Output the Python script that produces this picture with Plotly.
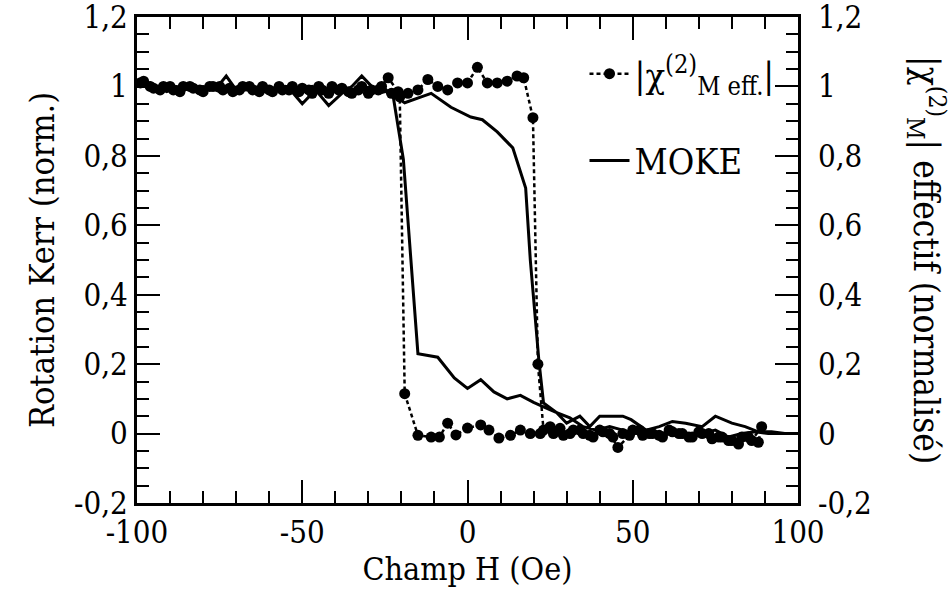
import plotly.graph_objects as go

# ---------------- data ----------------
chi_up_H = [-99, -96, -93, -90, -87, -84, -81, -78, -75, -72, -69, -66, -63, -60, -57, -54,
            -51, -48, -45, -42, -39, -36, -33, -30, -27, -24, -21, -18, -15, -12, -9, -6,
            -3, 0, 3, 6, 9, 12, 15, 17, 19.8, 21.3, 23, 26, 29, 32, 35, 38, 41, 44, 47,
            50, 53, 56, 59, 62, 65, 68, 71, 74, 77, 80, 83, 86, 89]
chi_up_V = [1.01, 1.0, 0.99, 1.0, 0.985, 1.0, 0.99, 1.0, 1.0, 0.995, 0.99, 1.0, 0.985, 0.99,
            1.0, 0.99, 0.985, 0.99, 1.0, 0.98, 0.99, 0.985, 0.99, 0.98, 0.99, 1.025, 0.985,
            0.98, 0.99, 1.02, 1.0, 0.99, 1.01, 1.01, 1.055, 1.01, 1.01, 1.015, 1.03, 1.025,
            0.91, 0.20, 0.01, 0.0, -0.005, 0.01, 0.0, -0.01, 0.005, -0.01, 0.0, 0.01, -0.005,
            0.0, -0.01, 0.005, 0.0, -0.01, 0.0, -0.015, -0.01, -0.02, -0.01, -0.02, 0.02]
chi_down_H = [88, 85, 82, 79, 76, 73, 70, 67, 64, 61, 58, 55, 52, 49, 45.5, 43, 40, 37, 34,
              31, 28, 25, 22, 19, 16, 13, 9.5, 6.5, 4, 0, -3.5, -6, -8.5, -11, -15, -19,
              -20.5, -23, -26, -29, -32, -35, -38, -41, -44, -47, -50, -53, -56, -59, -62,
              -65, -68, -71, -74, -77, -80, -83, -86, -89, -92, -95, -98]
chi_down_V = [-0.025, -0.01, -0.03, -0.02, -0.01, 0.0, 0.005, -0.01, 0.0, 0.01, -0.005, 0.0,
              0.01, -0.005, -0.04, 0.0, 0.01, -0.005, 0.01, 0.0, 0.015, 0.02, 0.0, 0.0, 0.01,
              -0.005, -0.013, 0.01, 0.025, 0.016, -0.004, 0.03, -0.01, -0.01, -0.005, 0.115,
              0.97, 0.98, 1.0, 0.99, 1.0, 0.98, 0.995, 1.0, 0.99, 0.98, 0.995, 1.0, 0.99,
              0.985, 1.0, 0.99, 1.0, 0.985, 0.99, 1.0, 0.985, 0.995, 1.0, 0.99, 1.0, 0.995,
              1.015]

moke_up_H = [-100, -96, -92, -88, -84, -80, -76, -73, -70, -66, -62, -58, -54, -50, -46,
             -42, -38, -35, -32, -28, -25, -21, -19, -14, -11, -5, 1, 4.5, 9, 13.7, 17.6,
             19, 21.6, 23, 27, 31, 35, 39, 43, 47, 51, 55, 59, 63, 67, 71, 75, 79, 83, 87,
             91, 95, 100]
moke_up_V = [1.0, 1.01, 0.99, 1.0, 0.99, 1.0, 0.995, 1.03, 0.99, 1.0, 0.985, 0.99, 0.995,
             0.95, 0.99, 0.945, 0.98, 1.0, 1.03, 0.99, 0.99, 0.965, 0.953, 0.97, 0.98, 0.94,
             0.912, 0.904, 0.869, 0.823, 0.707, 0.50, 0.21, 0.088, 0.06, 0.045, 0.02, 0.01,
             0.02, 0.01, 0.0, 0.01, 0.0, 0.01, -0.01, 0.0, 0.01, -0.01, 0.0, 0.005, 0.0, 0.0,
             0.0]
moke_down_H = [100, 96, 92, 88, 84, 80, 75, 71, 66, 62, 58, 54, 49.5, 47, 43, 40, 37, 34,
               30, 27, 23, 20, 16, 12, 8, 4, 0, -4, -9, -15, -19.4, -22.8, -27, -31, -35,
               -39, -43, -47, -51, -55, -59, -63, -67, -71, -75, -79, -83, -87, -91, -95,
               -100]
moke_down_V = [0.0, 0.0, 0.005, 0.005, 0.02, 0.03, 0.05, 0.02, 0.03, 0.035, 0.02, 0.01,
               0.04, 0.05, 0.05, 0.05, 0.02, 0.05, 0.03, 0.06, 0.077, 0.09, 0.11, 0.10,
               0.12, 0.155, 0.13, 0.16, 0.22, 0.23, 0.79, 0.99, 0.98, 1.0, 0.99, 1.0, 0.985,
               1.0, 0.99, 1.0, 0.98, 1.0, 0.99, 1.0, 0.985, 1.0, 0.99, 1.0, 0.985, 1.0, 1.0]

x_tickvals = [-100, -50, 0, 50, 100]
x_ticktext = ["-100", "-50", "0", "50", "100"]
y_tickvals = [-0.2, 0, 0.2, 0.4, 0.6, 0.8, 1.0, 1.2]
y_ticktext = ["-0,2", "0", "0,2", "0,4", "0,6", "0,8", "1", "1,2"]

FONT = "DejaVu Serif Condensed, DejaVu Serif"

fig = go.Figure()
fig.add_trace(go.Scatter(
    x=chi_up_H + chi_down_H, y=chi_up_V + chi_down_V,
    mode="lines+markers", legendgroup="chi",
    name="|χ<sup>(2)</sup><sub>M eff.</sub>|",
    line=dict(color="black", width=2.5, dash="4px,3px"),
    marker=dict(color="black", size=11),
))
fig.add_trace(go.Scatter(
    x=moke_up_H + moke_down_H, y=moke_up_V + moke_down_V,
    mode="lines", name="MOKE", legendgroup="moke",
    line=dict(color="black", width=3),
))

fig.update_layout(
    template="none",
    width=952, height=593,
    margin=dict(l=137, r=154, t=17, b=90, autoexpand=False),
    paper_bgcolor="white", plot_bgcolor="white",
    font=dict(family=FONT, size=31, color="black"),
    showlegend=True,
    legend=dict(x=0.677, y=0.945, xanchor="left", yanchor="top",
                bgcolor="rgba(0,0,0,0)", font=dict(size=36, family=FONT),
                tracegroupgap=37, itemwidth=40),
    xaxis=dict(range=[-100, 100], tickvals=x_tickvals, ticktext=x_ticktext,
               ticks="inside", ticklen=23, tickwidth=2, tickcolor="black",
               showline=True, linewidth=3, linecolor="black", mirror="ticks",
               showgrid=False, zeroline=False, ticklabeloverflow="allow",
               minor=dict(dtick=10, ticks="inside", ticklen=12, tickwidth=2,
                          tickcolor="black", showgrid=False),
               tickfont=dict(family=FONT, size=31),
               title=dict(text="Champ H (Oe)", standoff=2,
                          font=dict(size=32, family=FONT))),
    yaxis=dict(range=[-0.2, 1.2], tickvals=y_tickvals, ticktext=y_ticktext,
               ticks="inside", ticklen=23, tickwidth=2, tickcolor="black",
               showline=True, linewidth=3, linecolor="black", mirror="ticks",
               showgrid=False, zeroline=False, ticklabeloverflow="allow",
               minor=dict(dtick=0.05, ticks="inside", ticklen=12, tickwidth=2,
                          tickcolor="black", showgrid=False),
               tickfont=dict(family=FONT, size=31),
               title=dict(text="Rotation Kerr (norm.)", standoff=10,
                          font=dict(size=34, family=FONT))),
)
# right-hand tick labels (same scale as the left axis)
for v, t in zip(y_tickvals, y_ticktext):
    fig.add_annotation(text=t, xref="paper", yref="y", x=1, y=v, xanchor="left",
                       yanchor="middle", xshift=18, showarrow=False,
                       font=dict(size=31, family=FONT))
fig.add_annotation(
    text="|χ<sup>(2)</sup><sub>M</sub>| effectif (normalisé)",
    xref="paper", yref="paper", x=1.195, y=0.5, xanchor="center", yanchor="middle",
    textangle=90, showarrow=False, font=dict(size=35, family=FONT),
)

fig.write_html("out.html", config={"displayModeBar": False},
               post_script="document.body.style.margin='0';")
